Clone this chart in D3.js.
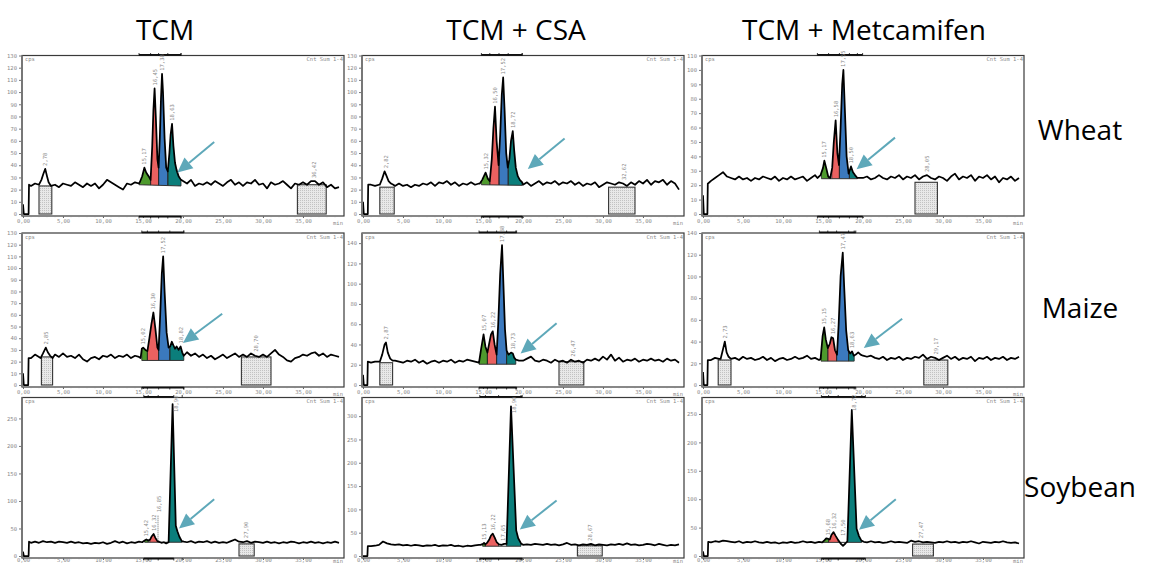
<!DOCTYPE html>
<html>
<head>
<meta charset="utf-8">
<script src="https://cdn.jsdelivr.net/npm/d3@7"></script>
<style>
  body { margin: 0; background: #fff; }
  svg { display: block; }
  .tiny text, text.tiny { font-family: "DejaVu Sans Mono", monospace; font-size: 5.5px; fill: #8a8a8a; }
  .big { font-family: "Open Sans", sans-serif; fill: #000; }
</style>
</head>
<body>
<svg id="chart" width="1150" height="563"></svg>
<script>
// radio-HPLC traces, cps vs retention time (min)
var columns = ["TCM", "TCM + CSA", "TCM + Metcamifen"];
var crops = ["Wheat", "Maize", "Soybean"];
var timeTicks = [0, 5, 10, 15, 20, 25, 30, 35];

// baseline samples every 0.5 min from 1.0 to 39.5 min
var baseStart = 1.0, baseStep = 0.5;

// y axis tops (cps) and tick steps, per row / column
var yAxisMax = [[130, 130, 110], [130, 150, 140], [288, 340, 279]];
var yTickMax = [[130, 130, 110], [130, 140, 140], [250, 300, 250]];
var yTickStep = [[10, 10, 10], [10, 20, 20], [50, 50, 50]];

// ---------- Wheat / TCM ----------
var wheatTCM_base = [23,25,24,24,24,24,24,22,25,24, 23,26,24,22,25,23,25,21,24,28, 26,24,22,20,25,24,26,25,25,25,
  25,25,25,25,25,25,25,25,27,25, 28,23,25,24,26,24,27,25,23,26, 28,24,26,23,26,25,28,24,25,21,
  26,24,25,27,24,21,25,24,26,24, 27,27,24,26,22,24,21,22];
var wheatTCM_segs = [
  [[0,8],[0.1,0],[0.7,0],[0.75,24]],
  [[2.0,24],[2.3,28],[2.55,33],[2.78,37],[3.0,31],[3.2,26],[3.5,23]],
  [[14.6,26],[14.9,31],[15.17,38],[15.4,34],[15.7,31],[15.95,28],[16.15,55],[16.3,85],[16.45,103],[16.6,80],[16.8,45],
   [16.95,38],[17.1,62],[17.25,95],[17.38,115],[17.5,100],[17.7,62],[17.9,38],[18.1,35],[18.3,50],[18.45,65],[18.63,74],
   [18.8,56],[19.0,42],[19.2,36],[19.45,31],[19.75,28]]
];
var wheatTCM_regions = [[14.5,15.95,"g"],[15.95,16.95,"r"],[16.95,18.1,"b"],[18.1,19.75,"t"]];
var wheatTCM_baseline = [14.5,24,19.75,23];
var wheatTCM_bracket = [14.5,19.75];
var wheatTCM_labels = [[2.78,"2,78"],[15.17,"15,17"],[16.45,"16,45"],[17.38,"17,38"],[18.63,"18,63"],[36.42,"36,42"]];
var wheatTCM_boxes = [[2.0,3.6,23],[34.3,37.9,24]];
var wheatTCM_arrow = [23.9,59,19.3,34];

// ---------- Wheat / TCM + CSA ----------
var wheatCSA_base = [24,23,24,24,24,24,23,25,23,24, 22,24,23,25,24,26,23,26,25,27, 24,26,23,25,24,26,24,25,25,25,
  25,25,25,25,25,25,25,25,24,26, 23,25,27,24,26,25,27,24,26,25, 27,24,26,23,25,24,26,22,24,26,
  25,24,26,25,23,26,24,27,25,28, 24,27,26,28,24,27,25,20];
var wheatCSA_segs = [
  [[0,10],[0.1,0],[0.6,0],[0.65,24]],
  [[2.1,24],[2.4,29],[2.7,35],[2.95,31],[3.2,27],[3.5,25],[3.8,24]],
  [[14.6,25],[14.9,28],[15.32,34],[15.6,29],[15.85,27],[16.1,45],[16.3,70],[16.5,88],[16.7,60],[16.95,40],[17.15,65],
   [17.35,98],[17.52,112],[17.7,85],[17.9,50],[18.1,38],[18.3,45],[18.5,60],[18.72,68],[18.9,52],[19.1,38],[19.35,31],
   [19.6,28],[19.9,26]]
];
var wheatCSA_regions = [[14.8,15.85,"g"],[15.85,17.0,"r"],[17.0,18.15,"b"],[18.15,19.9,"t"]];
var wheatCSA_baseline = [14.8,24,19.9,23.5];
var wheatCSA_bracket = [14.8,19.9];
var wheatCSA_labels = [[2.82,"2,82"],[15.32,"15,32"],[16.5,"16,50"],[17.52,"17,52"],[18.72,"18,72"],[32.62,"32,62"]];
var wheatCSA_boxes = [[2.1,3.9,22],[30.7,34.0,22]];
var wheatCSA_arrow = [25.2,62,20.6,37];

// ---------- Wheat / TCM + Metcamifen ----------
var wheatMet_base = [23,25,27,29,26,25,24,26,24,25, 23,25,24,26,25,24,26,23,25,24, 26,24,25,26,23,25,27,25,
  25,25,25,25,25,25,25,25,25,25, 25,26,24,25,27,25,24,26,25,27, 24,26,25,27,24,26,27,25,24,26,
  25,23,26,28,24,26,25,27,23,26, 25,27,24,26,22,25,24,26,23,25];
var wheatMet_segs = [
  [[0,13],[0.1,0],[0.55,0],[0.6,21]],
  [[14.3,25],[14.7,27],[15.0,32],[15.17,37],[15.4,32],[15.65,26],[15.9,25],[16.15,32],[16.35,50],[16.58,65],[16.8,42],
   [17.0,34],[17.2,60],[17.4,90],[17.55,100],[17.75,70],[17.95,40],[18.2,28],[18.5,33],[18.75,29],[19.0,27],[19.3,25]]
];
var wheatMet_regions = [[14.8,15.7,"g"],[16.1,17.05,"r"],[17.05,18.3,"b"],[18.3,19.3,"t"]];
var wheatMet_baseline = [14.8,24.5,19.3,24.5];
var wheatMet_bracket = [14.3,19.95];
var wheatMet_labels = [[15.17,"15,17"],[16.58,"16,58"],[17.55,"17,55"],[18.5,"18,50"],[28.05,"28,05"]];
var wheatMet_boxes = [[26.5,29.3,22]];
var wheatMet_arrow = [24.0,53,19.2,31];

// ---------- Maize / TCM ----------
var maizeTCM_base = [23,26,24,24,24,24,26,24,27,24, 25,23,26,22,20,23,24,22,25,24, 26,23,25,24,26,23,25,24,
  25,25,25,25,25,25,25,25,25,25, 26,28,25,27,24,26,23,25,22,24, 26,23,25,27,24,26,24,27,25,24,
  26,24,27,30,26,24,21,20,23,24, 26,25,27,28,25,27,24,26,25,24];
var maizeTCM_segs = [
  [[0,10],[0.1,0],[0.65,0],[0.7,23]],
  [[2.2,23],[2.5,27],[2.85,32],[3.1,28],[3.4,25],[3.7,23]],
  [[14.7,23],[14.85,31],[15.02,32],[15.3,30],[15.55,29],[15.8,40],[16.05,52],[16.3,62],[16.55,48],[16.8,32],[16.95,30],
   [17.15,60],[17.35,95],[17.52,110],[17.7,80],[17.95,45],[18.2,32],[18.4,33],[18.6,37],[18.8,34],[19.0,31],[19.2,33],
   [19.45,30],[19.7,33],[19.9,28],[20.1,25]]
];
var maizeTCM_regions = [[14.85,15.55,"g"],[15.55,16.95,"r"],[16.95,18.35,"b"],[18.35,20.1,"t"]];
var maizeTCM_baseline = [14.85,21,20.1,21];
var maizeTCM_bracket = [14.85,20.1];
var maizeTCM_labels = [[2.85,"2,85"],[15.02,"15,02"],[16.3,"16,30"],[17.52,"17,52"],[19.7,"18,82"],[29.1,"28,70"]];
var maizeTCM_boxes = [[2.3,3.7,24],[27.3,31.0,24]];
var maizeTCM_arrow = [24.9,61,20.0,36];

// ---------- Maize / TCM + CSA ----------
var maizeCSA_base = [22,23,23,23,23,23,24,23,22,24, 23,25,22,24,21,23,24,22,24,23, 25,22,24,23,25,24,23,25,
  24,24,24,24,24,24,24,24,24,24, 24,26,28,24,23,25,24,22,25,23, 24,22,25,23,24,22,25,24,26,24,
  28,25,30,24,27,23,25,24,26,23, 25,24,26,24,25,23,26,24,25,22];
var maizeCSA_segs = [
  [[0,10],[0.1,0],[0.55,0],[0.6,23]],
  [[2.1,23],[2.4,30],[2.7,40],[2.87,42],[3.1,32],[3.4,26],[3.7,24]],
  [[14.5,22],[14.75,35],[15.07,50],[15.3,38],[15.55,32],[15.8,42],[16.0,50],[16.22,53],[16.45,40],[16.7,30],[16.9,60],
   [17.15,110],[17.38,138],[17.55,100],[17.75,55],[17.95,34],[18.2,30],[18.5,32],[18.73,31],[18.9,27],[19.1,25]]
];
var maizeCSA_regions = [[14.5,15.55,"g"],[15.55,16.7,"r"],[16.7,17.95,"b"],[17.95,19.1,"t"]];
var maizeCSA_baseline = [14.5,20.5,19.1,20.5];
var maizeCSA_bracket = [14.5,19.2];
var maizeCSA_labels = [[2.87,"2,87"],[15.07,"15,07"],[16.22,"16,22"],[17.38,"17,38"],[18.73,"18,73"],[26.3,"26,47"]];
var maizeCSA_boxes = [[2.1,3.7,22],[24.5,27.6,23]];
var maizeCSA_arrow = [24.2,61,19.7,31];

// ---------- Maize / TCM + Metcamifen ----------
var maizeMet_base = [23,25,24,24,24,24,25,23,26,24, 25,23,24,26,23,25,22,24,25,23, 24,26,24,25,27,24,25,23,
  24,24,24,24,24,24,24,24,24,24, 28,26,27,25,24,26,23,25,24,26, 23,25,24,26,25,28,24,26,25,23,
  25,27,24,26,23,25,24,26,22,25, 24,26,23,25,24,26,23,25,24,26];
var maizeMet_segs = [
  [[0,12],[0.1,0],[0.55,0],[0.6,23]],
  [[2.2,24],[2.5,33],[2.73,40],[2.95,30],[3.2,26],[3.5,24]],
  [[14.7,24],[14.95,45],[15.15,53],[15.35,42],[15.6,34],[15.85,38],[16.05,44],[16.27,43],[16.5,32],[16.75,28],[16.95,55],
   [17.2,100],[17.47,122],[17.65,90],[17.9,50],[18.15,32],[18.4,29],[18.63,31],[18.85,27],[19.1,28],[19.4,30],[19.7,28],[20.0,27]]
];
var maizeMet_regions = [[14.75,15.6,"g"],[15.6,16.7,"r"],[16.7,18.2,"b"],[18.2,18.9,"t"]];
var maizeMet_baseline = [14.75,22,18.9,22];
var maizeMet_bracket = [14.55,19.1];
var maizeMet_labels = [[2.73,"2,73"],[15.15,"15,15"],[16.27,"16,27"],[17.47,"17,47"],[18.63,"18,63"],[29.17,"29,17"]];
var maizeMet_boxes = [[1.9,3.5,23],[27.6,30.6,23]];
var maizeMet_arrow = [24.9,61,20.1,34];

// ---------- Soybean / TCM ----------
var soyTCM_base = [24,26,24,27,25,26,24,26,25,24, 26,24,25,23,24,22,24,23,25,22, 24,27,24,26,23,25,24,26,
  25,25,25,25,25,25,25,25,25,25, 26,25,27,24,26,25,27,24,26,24, 25,24,27,30,26,25,27,24,26,25,
  24,26,24,25,23,25,24,26,25,23, 25,24,26,24,25,23,25,24,26,24];
var soyTCM_segs = [
  [[0,8],[0.1,0],[0.7,0],[0.75,26]],
  [[14.9,25],[15.2,28],[15.42,30],[15.7,28],[15.9,30],[16.1,36],[16.32,40],[16.55,33],[16.8,27],[17.0,26],[17.3,24],
   [17.6,25],[17.9,23],[18.2,25],[18.7,276],[19.1,55],[19.3,45],[19.55,35],[19.85,27],[20.1,26]]
];
var soyTCM_regions = [[15.2,15.65,"g"],[15.85,16.9,"r"],[18.15,19.9,"t"]];
var soyTCM_baseline = [15.2,25,19.9,25];
var soyTCM_bracket = [15.1,18.85];
var soyTCM_labels = [[15.35,"15,42"],[16.32,"16,32"],[17.0,"16,85",74,true],[19.1,"18,90",256],[27.9,"27,90"]];
var soyTCM_boxes = [[27.0,28.9,22]];
var soyTCM_arrow = [23.9,103,19.5,50];

// ---------- Soybean / TCM + CSA ----------
var soyCSA_base = [21,22,24,31,27,25,24,25,23,24, 22,24,23,21,23,22,24,21,23,22, 24,21,22,20,22,21,23,24,
  24,24,24,24,24,24,24,24,24,24, 24,25,24,26,25,24,26,24,25,23, 25,28,24,25,23,25,24,26,23,25,
  24,23,25,24,26,24,27,24,25,23, 24,26,25,23,26,24,22,24,23,25];
var soyCSA_segs = [
  [[0,0],[0.55,0],[0.6,21]],
  [[14.7,24],[15.0,26],[15.13,28],[15.3,25],[15.5,28],[15.8,36],[16.0,44],[16.22,48],[16.45,40],[16.7,30],[17.0,25],
   [17.3,24],[17.65,26],[17.95,26],[18.5,321],[19.15,55],[19.4,38],[19.75,27]]
];
var soyCSA_regions = [[14.95,15.3,"g"],[15.3,16.95,"r"],[17.95,19.75,"t"]];
var soyCSA_baseline = [14.95,21,19.75,21];
var soyCSA_bracket = [14.6,19.9];
var soyCSA_labels = [[15.13,"15,13"],[16.22,"16,22"],[17.55,"17,65"],[18.9,"18,90",300],[28.4,"28,67"]];
var soyCSA_boxes = [[26.8,29.9,22]];
var soyCSA_arrow = [24.2,119,19.6,57];

// ---------- Soybean / TCM + Metcamifen ----------
var soyMet_base = [24,26,25,27,26,25,24,26,23,25, 24,26,24,23,25,23,24,22,24,23, 25,23,24,26,24,25,23,25,
  24,24,24,24,24,24,24,24,24,24, 25,24,26,24,25,23,24,26,24,25, 24,23,27,25,26,24,25,24,23,25,
  24,26,24,25,23,25,24,26,24,22, 25,24,23,25,24,26,24,23,24,22];
var soyMet_segs = [
  [[0,8],[0.1,0],[0.6,0],[0.65,25]],
  [[14.9,24],[15.2,28],[15.4,31],[15.68,30],[15.85,29],[16.05,37],[16.32,42],[16.6,35],[16.9,28],[17.2,22],[17.5,18],
   [17.8,22],[18.05,26],[18.6,257],[19.2,48],[19.5,35],[19.8,27],[20.1,25]]
];
var soyMet_regions = [[15.0,15.7,"g"],[15.7,16.9,"r"],[17.95,19.85,"t"]];
var soyMet_baseline = [15.0,24,19.85,24];
var soyMet_bracket = [14.8,20.3];
var soyMet_labels = [[15.6,"15,68"],[16.32,"16,32"],[17.5,"17,50",30],[18.85,"18,72",250],[27.3,"27,47"]];
var soyMet_boxes = [[26.2,28.8,21]];
var soyMet_arrow = [24.1,100,19.5,46];

var panels = [
  [wheatTCM_base, wheatTCM_segs, wheatTCM_regions, wheatTCM_baseline, wheatTCM_bracket, wheatTCM_labels, wheatTCM_boxes, wheatTCM_arrow],
  [wheatCSA_base, wheatCSA_segs, wheatCSA_regions, wheatCSA_baseline, wheatCSA_bracket, wheatCSA_labels, wheatCSA_boxes, wheatCSA_arrow],
  [wheatMet_base, wheatMet_segs, wheatMet_regions, wheatMet_baseline, wheatMet_bracket, wheatMet_labels, wheatMet_boxes, wheatMet_arrow],
  [maizeTCM_base, maizeTCM_segs, maizeTCM_regions, maizeTCM_baseline, maizeTCM_bracket, maizeTCM_labels, maizeTCM_boxes, maizeTCM_arrow],
  [maizeCSA_base, maizeCSA_segs, maizeCSA_regions, maizeCSA_baseline, maizeCSA_bracket, maizeCSA_labels, maizeCSA_boxes, maizeCSA_arrow],
  [maizeMet_base, maizeMet_segs, maizeMet_regions, maizeMet_baseline, maizeMet_bracket, maizeMet_labels, maizeMet_boxes, maizeMet_arrow],
  [soyTCM_base, soyTCM_segs, soyTCM_regions, soyTCM_baseline, soyTCM_bracket, soyTCM_labels, soyTCM_boxes, soyTCM_arrow],
  [soyCSA_base, soyCSA_segs, soyCSA_regions, soyCSA_baseline, soyCSA_bracket, soyCSA_labels, soyCSA_boxes, soyCSA_arrow],
  [soyMet_base, soyMet_segs, soyMet_regions, soyMet_baseline, soyMet_bracket, soyMet_labels, soyMet_boxes, soyMet_arrow]
];

// layout
var colLeft = [23, 363, 703], plotW = 320;
var rowY0 = [214, 385, 556], rowTop = [55.5, 233, 397.5];
var fillColor = {g: "#4e9a2d", r: "#ea6160", b: "#3b79be", t: "#0b7e7b"};
var arrowColor = "#5ea8b9";

var svg = d3.select("#chart");

var defs = svg.append("defs");
var pat = defs.append("pattern").attr("id", "dots")
  .attr("width", 2).attr("height", 2).attr("patternUnits", "userSpaceOnUse");
pat.append("rect").attr("width", 2).attr("height", 2).attr("fill", "#e8e8e8");
pat.append("rect").attr("width", 1).attr("height", 1).attr("fill", "#c2c2c2");

function buildTrace(base, segs){
  var pts = [];
  base.forEach(function(v, i){
    var t = baseStart + i * baseStep;
    var covered = segs.some(function(s){ return t >= s[0][0] && t <= s[s.length-1][0]; });
    if(!covered) pts.push([t, v]);
  });
  segs.forEach(function(s){ s.forEach(function(p){ pts.push(p); }); });
  return pts.sort(function(a, b){ return a[0] - b[0]; });
}

var bis = d3.bisector(function(d){ return d[0]; }).left;
function valueAt(tr, t){
  var i = bis(tr, t);
  if(i <= 0) return tr[0][1];
  if(i >= tr.length) return tr[tr.length-1][1];
  var a = tr[i-1], b = tr[i];
  return a[1] + (b[1] - a[1]) * (t - a[0]) / (b[0] - a[0]);
}
function localMax(tr, t0, t1){
  var m = Math.max(valueAt(tr, t0), valueAt(tr, t1));
  tr.forEach(function(d){ if(d[0] > t0 && d[0] < t1) m = Math.max(m, d[1]); });
  return m;
}

panels.forEach(function(p, k){
  var row = Math.floor(k / 3), col = k % 3;
  var base = p[0], segs = p[1], regions = p[2], bl = p[3], bracket = p[4], labels = p[5], boxes = p[6], arrow = p[7];
  var left = colLeft[col], y0 = rowY0[row], top = rowTop[row], bottom = y0 + 2;

  var x = d3.scaleLinear().domain([0, 40]).range([left, left + plotW]);
  var y = d3.scaleLinear().domain([0, yAxisMax[row][col]]).range([y0, top]);
  var trace = buildTrace(base, segs);
  var baseAt = function(t){ return bl[1] + (bl[3] - bl[1]) * (t - bl[0]) / (bl[2] - bl[0]); };

  var g = svg.append("g");

  // grey integration boxes
  g.selectAll(".box").data(boxes).enter().append("rect")
    .attr("class", "box")
    .attr("x", function(d){ return x(d[0]); })
    .attr("y", function(d){ return y(d[2]); })
    .attr("width", function(d){ return x(d[1]) - x(d[0]); })
    .attr("height", function(d){ return y(0) - y(d[2]); })
    .attr("fill", "url(#dots)")
    .attr("stroke", "#333").attr("stroke-width", 1.1);

  // coloured peak areas
  var area = d3.area()
    .x(function(d){ return x(d[0]); })
    .y0(function(d){ return y(baseAt(d[0])); })
    .y1(function(d){ return y(Math.max(d[1], baseAt(d[0]))); });
  regions.forEach(function(r){
    var pts = [[r[0], valueAt(trace, r[0])]]
      .concat(trace.filter(function(d){ return d[0] > r[0] && d[0] < r[1]; }))
      .concat([[r[1], valueAt(trace, r[1])]]);
    g.append("path").datum(pts).attr("d", area).attr("fill", fillColor[r[2]]);
  });
  // dividers between peaks
  var cuts = [];
  regions.forEach(function(r){ cuts.push(r[0]); cuts.push(r[1]); });
  g.selectAll(".cut").data(cuts).enter().append("line")
    .attr("x1", function(t){ return x(t); }).attr("x2", function(t){ return x(t); })
    .attr("y1", function(t){ return y(baseAt(t)); })
    .attr("y2", function(t){ return y(Math.max(valueAt(trace, t), baseAt(t))); })
    .attr("stroke", "#222").attr("stroke-width", 0.8);
  g.append("line")
    .attr("x1", x(regions[0][0])).attr("y1", y(baseAt(regions[0][0])))
    .attr("x2", x(regions[regions.length-1][1])).attr("y2", y(baseAt(regions[regions.length-1][1])))
    .attr("stroke", "#333").attr("stroke-width", 1);

  // trace
  g.append("path").datum(trace)
    .attr("d", d3.line().x(function(d){ return x(d[0]); }).y(function(d){ return y(d[1]); }))
    .attr("fill", "none").attr("stroke", "#000").attr("stroke-width", 1.75)
    .attr("stroke-linejoin", "round");

  // frame
  g.append("rect")
    .attr("x", left - 1).attr("y", top).attr("width", plotW + 2).attr("height", bottom - top)
    .attr("fill", "none").attr("stroke", "#3a3a3a").attr("stroke-width", 1.2);
  g.append("line").attr("x1", left - 1).attr("x2", left - 1).attr("y1", top).attr("y2", bottom)
    .attr("stroke", "#777").attr("stroke-width", 2);

  // y axis
  var ya = g.append("g").attr("class", "tiny").attr("transform", "translate(" + (left - 2) + ",0)")
    .call(d3.axisLeft(y).tickValues(d3.range(0, yTickMax[row][col] + 1, yTickStep[row][col]))
      .tickSize(2).tickPadding(2).tickFormat(d3.format("d")));
  ya.select(".domain").remove();
  ya.selectAll(".tick line").attr("stroke", "#777");
  ya.selectAll(".tick text").attr("font-family", null).attr("font-size", null).attr("fill", null);

  // x axis (bottom row sits at the picture edge, so its labels are pulled up to stay visible)
  var lastRow = row === 2;
  var xa = g.append("g").attr("class", "tiny").attr("transform", "translate(0," + bottom + ")")
    .call(d3.axisBottom(x).tickValues(timeTicks).tickSize(2).tickPadding(lastRow ? -1.8 : 1.5)
      .tickFormat(function(d){ return d3.format(".2f")(d).replace(".", ","); }));
  xa.select(".domain").remove();
  xa.selectAll(".tick line").attr("stroke", "#666");
  xa.selectAll(".tick text").attr("font-family", null).attr("font-size", null).attr("fill", null);
  xa.selectAll(".minor").data(d3.range(1, 40)).enter().append("line")
    .attr("x1", function(t){ return x(t); }).attr("x2", function(t){ return x(t); })
    .attr("y1", 0).attr("y2", 1.2).attr("stroke", "#888").attr("stroke-width", 0.6);
  xa.append("text").attr("x", x(40)).attr("y", lastRow ? 5 : 8.5).attr("text-anchor", "end").text("min");

  g.append("text").attr("class", "tiny").attr("x", left + 2).attr("y", top + 5.5).text("cps");
  g.append("text").attr("class", "tiny").attr("x", left + plotW).attr("y", top + 5.5)
    .attr("text-anchor", "end").text("Cnt Sum 1-4");

  // integration window brackets
  var marks = [bracket[0], bracket[1]];
  regions.forEach(function(r){ marks.push(r[1]); });
  [[top, -1], [bottom, 1]].forEach(function(e){
    g.append("line").attr("x1", x(bracket[0])).attr("x2", x(bracket[1]))
      .attr("y1", e[0] + e[1] * 0.6).attr("y2", e[0] + e[1] * 0.6)
      .attr("stroke", "#111").attr("stroke-width", 1.8);
    g.selectAll(null).data(marks).enter().append("line")
      .attr("x1", function(t){ return x(t); }).attr("x2", function(t){ return x(t); })
      .attr("y1", e[0]).attr("y2", e[0] + e[1] * 2.5)
      .attr("stroke", "#111").attr("stroke-width", 0.8);
  });

  // retention time labels
  labels.forEach(function(l){
    var vt = l[0], v0 = l[2] != null ? l[2] : localMax(trace, vt - 0.3, vt + 0.3);
    if(l[3]){
      g.append("line").attr("x1", x(vt) - 1).attr("x2", x(vt) - 1)
        .attr("y1", y(valueAt(trace, vt)) - 1).attr("y2", y(v0))
        .attr("stroke", "#444").attr("stroke-width", 0.8).attr("stroke-dasharray", "1,1");
    }
    g.append("text").attr("class", "tiny")
      .attr("transform", "translate(" + (x(vt) + 2) + "," + (y(v0) - 3) + ") rotate(-90)")
      .text(l[1]);
  });

  // arrow pointing at the metabolite peak
  var ax1 = x(arrow[0]), ay1 = y(arrow[1]), ax2 = x(arrow[2]), ay2 = y(arrow[3]);
  var ang = Math.atan2(ay2 - ay1, ax2 - ax1), hl = 15, hw = 7;
  var bx = ax2 - hl * Math.cos(ang), by = ay2 - hl * Math.sin(ang);
  g.append("line").attr("x1", ax1).attr("y1", ay1).attr("x2", bx).attr("y2", by)
    .attr("stroke", arrowColor).attr("stroke-width", 2);
  g.append("path")
    .attr("d", "M" + ax2 + "," + ay2 +
      "L" + (bx + hw * Math.sin(ang)) + "," + (by - hw * Math.cos(ang)) +
      "L" + (bx - hw * Math.sin(ang)) + "," + (by + hw * Math.cos(ang)) + "Z")
    .attr("fill", arrowColor);
});

// column titles and row labels
var colCenter = [165, 516, 864], rowCenterY = [140, 318, 497];
var titles = svg.selectAll(".ctitle").data(columns).enter().append("text")
  .attr("class", "big ctitle").attr("text-anchor", "middle")
  .attr("x", function(d, i){ return colCenter[i]; }).attr("y", 40)
  .attr("font-size", 27).text(function(d){ return d; });
// scale font so the widest title spans what the scan shows
var w = titles.nodes()[2].getComputedTextLength();
var fs = 27 * 244 / w;
titles.attr("font-size", fs);
svg.selectAll(".rtitle").data(crops).enter().append("text")
  .attr("class", "big rtitle").attr("text-anchor", "middle")
  .attr("x", 1080).attr("y", function(d, i){ return rowCenterY[i]; })
  .attr("font-size", fs).text(function(d){ return d; });
</script>
</body>
</html>
